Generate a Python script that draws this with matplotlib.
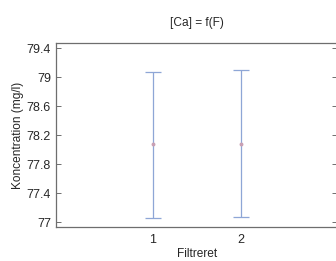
import matplotlib
matplotlib.use("Agg")
import matplotlib.pyplot as plt

# data
groups = [1, 2]
means = [78.073, 78.081]
err_low = [1.018, 1.012]
err_high = [1.003, 1.014]

plt.rcParams['font.family'] = ['Liberation Sans', 'DejaVu Sans']

fig = plt.figure(figsize=(3.36, 2.61), dpi=100)
ax = fig.add_axes([0.168, 0.129, 0.836, 0.705])

ax.errorbar(groups, means, yerr=[err_low, err_high], fmt='o', markersize=1.8,
            markerfacecolor='#c9a0b4', markeredgecolor='#c9a0b4',
            ecolor='#8ea6d6', elinewidth=0.9, capsize=6, capthick=0.9)

ax.set_xlim(-0.086, 3.086)
ax.set_ylim(76.927, 79.468)
ax.set_xticks(groups)
ax.set_yticks([77, 77.4, 77.8, 78.2, 78.6, 79, 79.4])
ax.set_yticklabels(['77', '77.4', '77.8', '78.2', '78.6', '79', '79.4'])

for s in ax.spines.values():
    s.set_color('#6e6e6e')
    s.set_linewidth(0.9)

ax.tick_params(axis='y', direction='in', length=3.5, width=0.7, color='#6e6e6e',
               labelsize=9, labelcolor='#262626', right=True, pad=4)
ax.tick_params(axis='x', length=0, labelsize=9, labelcolor='#262626', pad=4.5)

ax.set_title('[Ca] = f(F)', fontsize=8.6, color='#262626', pad=12.5)
ax.set_xlabel('Filtreret', fontsize=8.6, color='#262626', labelpad=2)
ax.set_ylabel('Koncentration (mg/l)', fontsize=8.6, color='#262626', labelpad=2)

fig.savefig('out.png', dpi=100)
